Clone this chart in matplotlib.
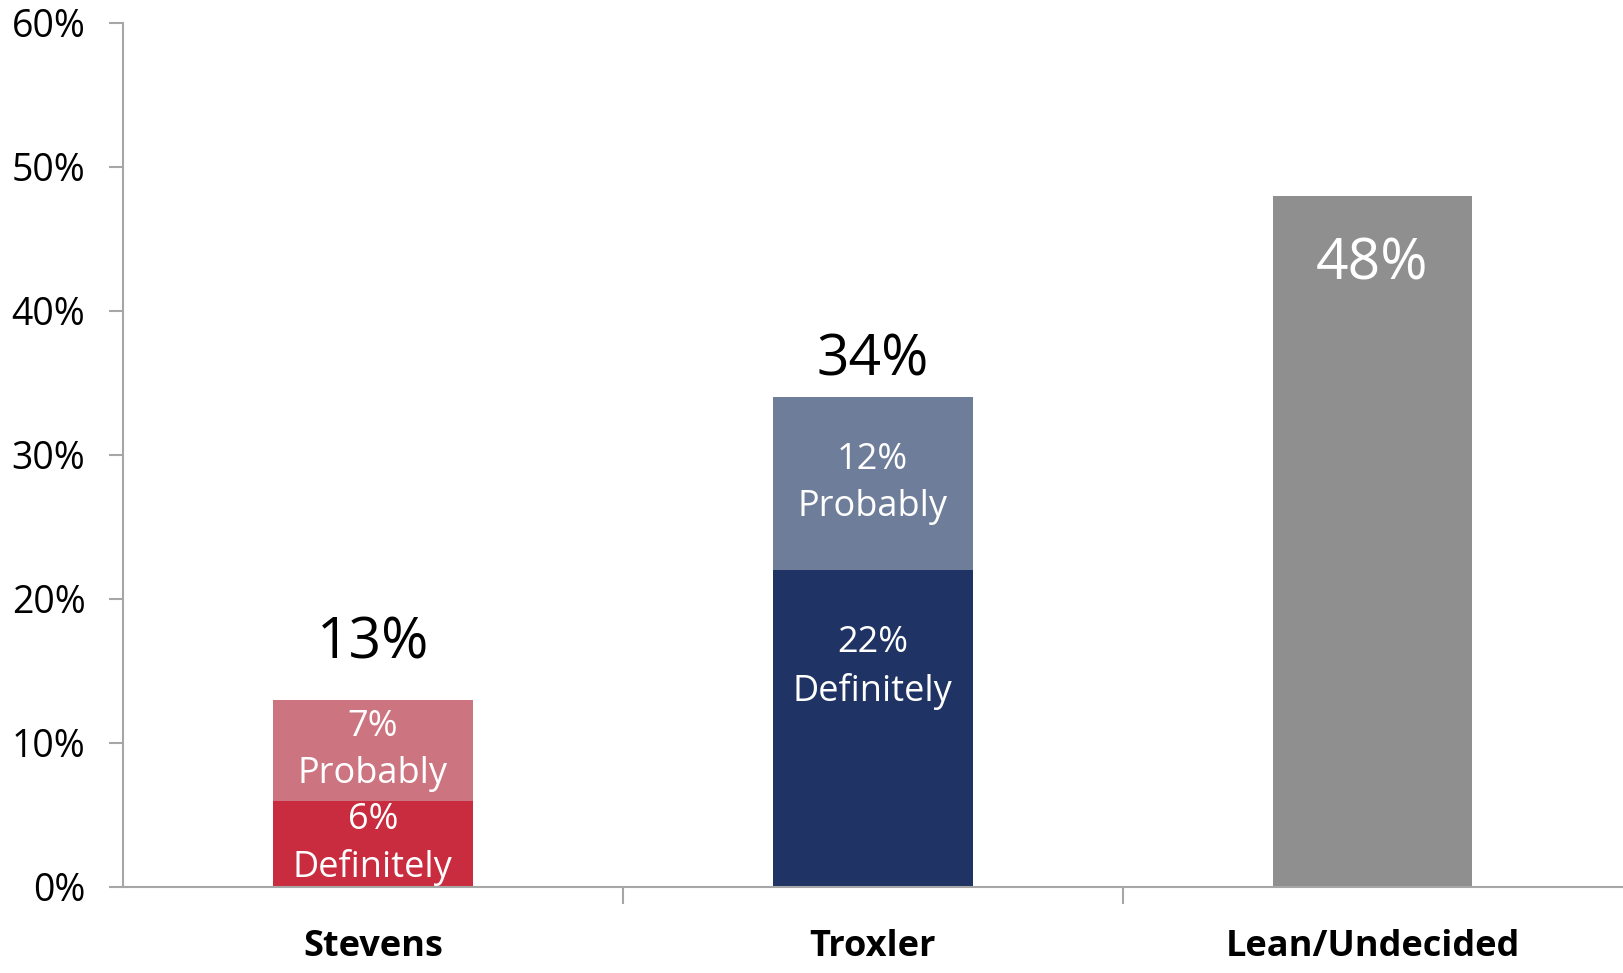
import numpy as np
import matplotlib
matplotlib.use('Agg')
import matplotlib.pyplot as plt
from matplotlib.ticker import FuncFormatter, FixedLocator

plt.rcParams['font.family'] = ['Open Sans', 'DejaVu Sans']

categories = ['Stevens', 'Troxler', 'Lean/Undecided']
definitely = [6, 22, 48]
probably = [7, 12, 0]
totals = [13, 34, 48]
def_labels = ['6%\nDefinitely', '22%\nDefinitely', '48%']
prob_labels = ['7%\nProbably', '12%\nProbably', '']

def_colors = ['#C82C3E', '#1F3464', '#8F8F8F']
prob_colors = ['#CC7480', '#6E7D99', '#8F8F8F']

fig = plt.figure(figsize=(16.24, 9.73), dpi=100)
ax = fig.add_axes([0.0757, 0.0884, 0.9233, 0.888])

x = np.arange(len(categories))
w = 0.4
ax.bar(x, definitely, w, color=def_colors, zorder=2)
ax.bar(x, probably, w, bottom=definitely, color=prob_colors, zorder=2)

# segment labels
for i in range(len(categories)):
    if i == 2:
        ax.annotate(def_labels[i], (x[i], definitely[i]), xytext=(0, -50),
                    textcoords='offset points', ha='center', va='center',
                    color='white', fontsize=41)
        continue
    dy = 44 if i == 1 else 0
    t = ax.annotate(def_labels[i], (x[i], definitely[i] / 2), xytext=(0, dy),
                    textcoords='offset points', ha='center', va='center',
                    color='white', fontsize=26, linespacing=1.4, zorder=3)
    t.set_clip_on(True)
    ax.annotate(prob_labels[i], (x[i], definitely[i] + probably[i] / 2),
                xytext=(0, 0), textcoords='offset points', ha='center',
                va='center', color='white', fontsize=26, linespacing=1.4,
                zorder=3)

# totals above stacked bars
offs = [20, 6]
for i in range(2):
    ax.annotate(f'{totals[i]}%', (x[i], totals[i]), xytext=(0, offs[i]),
                textcoords='offset points', ha='center', va='bottom',
                fontsize=41, color='black')

ax.set_xlim(-0.5, 2.5)
ax.set_ylim(0, 60)
ax.yaxis.set_major_locator(FixedLocator(np.arange(0, 61, 10)))
ax.yaxis.set_major_formatter(FuncFormatter(lambda v, p: f'{v:.0f}%'))
ax.tick_params(axis='y', labelsize=27, length=10, width=1.5, color='#A6A6A6', pad=17)

ax.set_xticks(x)
ax.set_xticklabels(categories, fontsize=26, fontweight='bold')
ax.set_xticks([0.5, 1.5], minor=True)
ax.tick_params(axis='x', which='major', length=0, pad=30)
ax.tick_params(axis='x', which='minor', length=12, width=1.5, color='#A6A6A6')

for s in ['top', 'right']:
    ax.spines[s].set_visible(False)
for s in ['left', 'bottom']:
    ax.spines[s].set_color('#A6A6A6')
    ax.spines[s].set_linewidth(1.5)

fig.savefig('out.png', dpi=100)
